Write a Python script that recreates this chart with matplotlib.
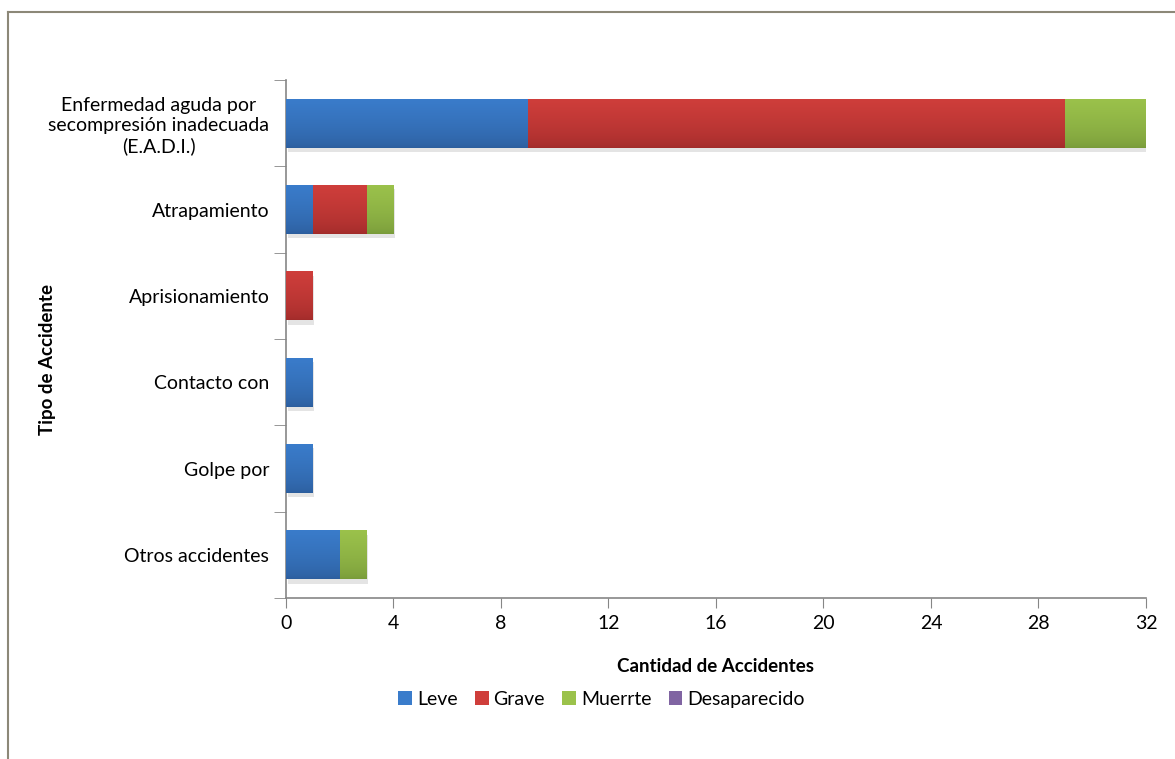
import numpy as np
import matplotlib.pyplot as plt
import matplotlib.colors as mcolors
from matplotlib.lines import Line2D
from matplotlib.patches import Patch

plt.rcParams['font.family'] = ['Lato', 'DejaVu Sans']

categorias = ["Enfermedad aguda por\nsecompresión inadecuada\n(E.A.D.I.)", "Atrapamiento",
              "Aprisionamiento", "Contacto con", "Golpe por", "Otros accidentes"]
leve = [9, 1, 0, 1, 1, 2]
grave = [20, 2, 1, 0, 0, 0]
muerte = [3, 1, 0, 0, 0, 1]
desaparecido = [0, 0, 0, 0, 0, 0]

series = [("Leve", leve, "#3A7CCB", "#2C5D9C"),
          ("Grave", grave, "#CF3E3B", "#A02B2A"),
          ("Muerrte", muerte, "#9BC24B", "#789A3A"),
          ("Desaparecido", desaparecido, "#8064A2", "#5F4A7A")]

fig = plt.figure(figsize=(11.75, 7.59), dpi=100)
ax = fig.add_axes([0.2434, 0.2121, 0.7319, 0.6825])

y = np.arange(len(categorias))
left = np.zeros(len(categorias))
handles = []
for nombre, vals, c_top, c_bot in series:
    bars = ax.barh(y, vals, left=left, height=0.57, color=c_top, edgecolor="none", zorder=2)
    cmap = mcolors.LinearSegmentedColormap.from_list(nombre, [c_bot, c_top])
    grad = np.linspace(0, 1, 100).reshape(-1, 1) ** 0.6
    for p in bars.patches:
        if p.get_width() == 0:
            continue
        x0, y0 = p.get_x(), p.get_y()
        w, h = p.get_width(), p.get_height()
        # sombra
        ax.add_patch(plt.Rectangle((x0 + 0.06, y0 + 0.05), w, h, color="#e4e4e4", zorder=1, lw=0))
        im = ax.imshow(grad, cmap=cmap, aspect="auto", extent=(x0, x0 + w, y0, y0 + h),
                       origin="upper", zorder=3)
        im.set_clip_path(p)
    left = left + np.array(vals)
    handles.append(Patch(facecolor=c_top, edgecolor="none", label=nombre))

ax.set_xlim(0, 32)
ax.set_ylim(len(categorias) - 0.5, -0.5)
ax.set_xticks(range(0, 33, 4))
ax.set_yticks(y)
ax.set_yticklabels(categorias, fontsize=14, ha="right", multialignment="center")
ax.tick_params(axis="y", length=0, pad=12)
ax.set_yticks(np.arange(-0.5, len(categorias)), minor=True)
ax.tick_params(axis="y", which="minor", length=9, color="#868686")
ax.tick_params(axis="x", which="major", labelsize=14, length=7, color="#868686", direction="out", pad=5)
for s in ["top", "right"]:
    ax.spines[s].set_visible(False)
for s in ["left", "bottom"]:
    ax.spines[s].set_color("#868686")
    ax.spines[s].set_linewidth(1.2)

ax.set_xlabel("Cantidad de Accidentes", fontsize=13.5, fontweight="bold", labelpad=19)
ax.set_ylabel("Tipo de Accidente", fontsize=13.5, fontweight="bold")
ax.yaxis.set_label_coords(-0.268, 0.46)

fig.legend(handles=handles, loc="center", bbox_to_anchor=(0.512, 0.079), ncol=4, frameon=False,
           fontsize=14, handlelength=0.7, handleheight=0.7, handletextpad=0.25, columnspacing=0.9)

# marco
fig.add_artist(Line2D([0.0068, 0.0068], [0, 0.984], color="#8C8878", lw=1.5, transform=fig.transFigure))
fig.add_artist(Line2D([0.0068, 1.0], [0.984, 0.984], color="#8C8878", lw=1.5, transform=fig.transFigure))

fig.savefig("out.png", dpi=100)
